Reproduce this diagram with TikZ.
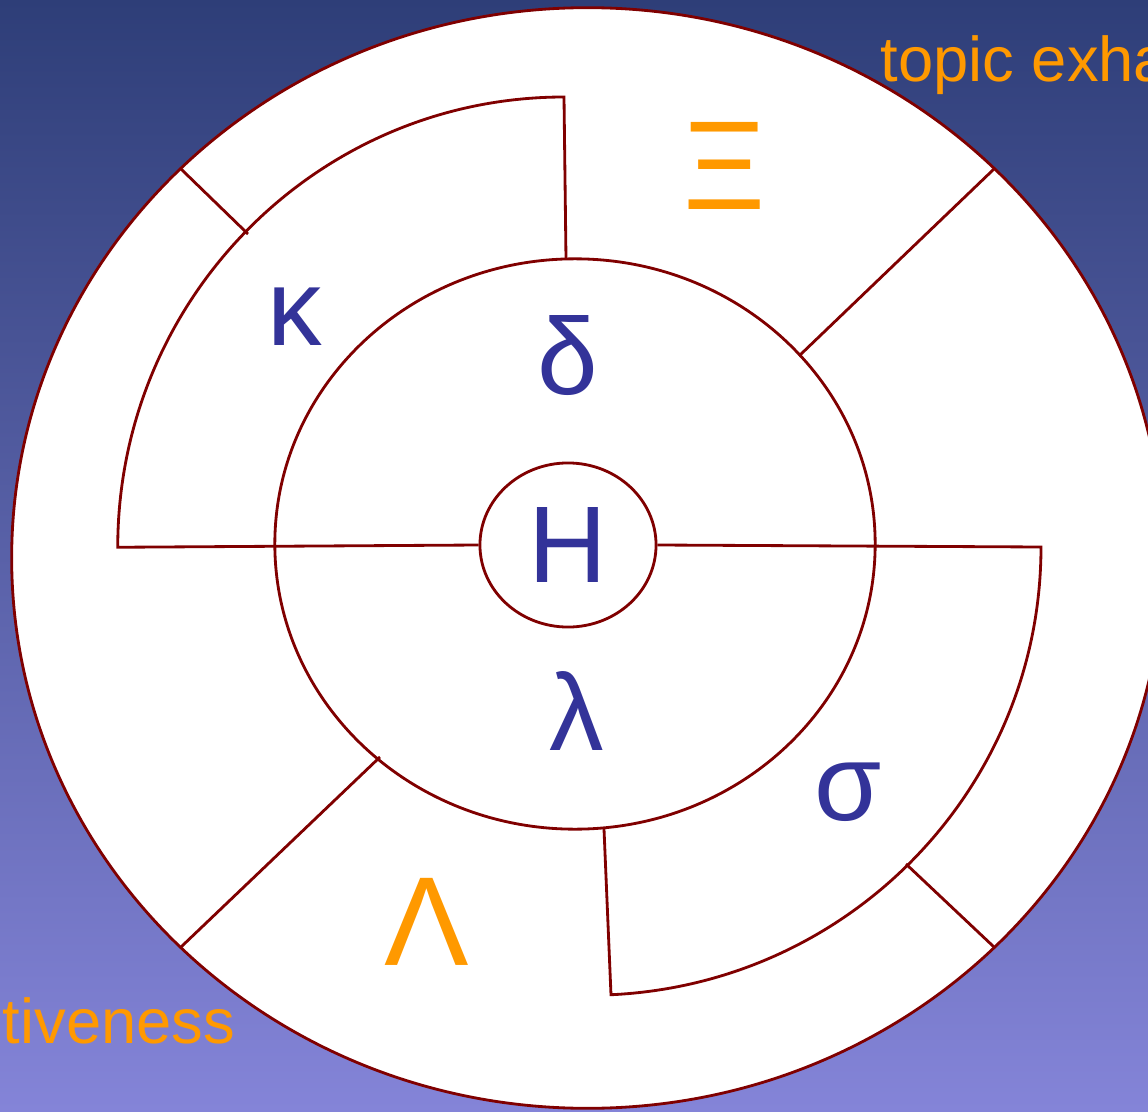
\documentclass[tikz,border=0pt]{standalone}
\usepackage{fontspec}
\setmainfont{Liberation Sans}
\usetikzlibrary{shapes.geometric}
\definecolor{rimred}{RGB}{128, 0, 0}
\definecolor{lettblue}{RGB}{51, 51, 153}
\definecolor{lettorange}{RGB}{255, 153, 0}
\definecolor{skytop}{RGB}{46, 62, 120}
\definecolor{skybottom}{RGB}{132, 132, 216}

\begin{document}
\begin{tikzpicture}[x=0.01cm, y=0.01cm,
                rim/.style={draw=rimred, line width=0.8pt},
                small/.style={text=lettblue, font=\fontsize{31}{37}\selectfont, anchor=base},
                big/.style={text=lettorange, font=\fontsize{36}{43}\selectfont, anchor=base},
                edgetext/.style={text=lettorange, font=\fontsize{18}{22}\selectfont,
                    anchor=base west, inner sep=0pt}
            ]
            % background
            \useasboundingbox (0,0) rectangle (1148,1111);
            \fill[top color=skytop, bottom color=skybottom] (0,0) rectangle (1148,1111);

            % outer disc
            \filldraw[rim, fill=white] (587.5,553) ellipse [x radius=5.755cm, y radius=5.5cm];

            % inner disc
            \draw[rim] (575,567) ellipse [x radius=3cm, y radius=2.85cm];

            % core
            \node[rim, ellipse, fill=white, minimum width=1.76cm, minimum height=1.64cm,
                inner sep=0pt, text=lettblue, font=\fontsize{31}{37}\selectfont] (core) at (568,566) {Η};

            % upper left sector
            \coordinate (ulfoot) at (566,852);
            \draw[rim] (ulfoot) -- (564,1014) arc [start angle=90, end angle=180,
                x radius=4.46cm, y radius=4.5cm] -- (core.west);

            % lower right sector
            \coordinate (lrfoot) at (604,282);
            \draw[rim] (core.east) -- (1041,564) arc [start angle=0, end angle=-87.3,
                x radius=4.51cm, y radius=4.48cm] -- (lrfoot);

            % spokes
            \coordinate (nwout) at (181,942);
            \coordinate (nwin) at (248,877);
            \coordinate (neout) at (994,942);
            \coordinate (nein) at (799,755);
            \coordinate (swout) at (181,164);
            \coordinate (swin) at (380,354);
            \coordinate (seout) at (994,164);
            \coordinate (sein) at (906,247);
            \draw[rim] (nwout) -- (nwin);
            \draw[rim] (neout) -- (nein);
            \draw[rim] (swout) -- (swin);
            \draw[rim] (seout) -- (sein);

            % letters
            \node[big] (xi) at (725,901) {Ξ};
            \node[small] (kappa) at (295,766) {κ};
            \node[small] (delta) at (568,716) {δ};
            \node[small] (lambda) at (577,361) {λ};
            \node[small] (sigma) at (848,291) {σ};
            \node[big] (biglambda) at (427,146) {Λ};

            % cut off captions
            \node[edgetext] (topcap) at (880,1029) {topic exha};
            \node[edgetext] (botcap) at (2,68) {tiveness};

            \end{tikzpicture}
\end{document}
